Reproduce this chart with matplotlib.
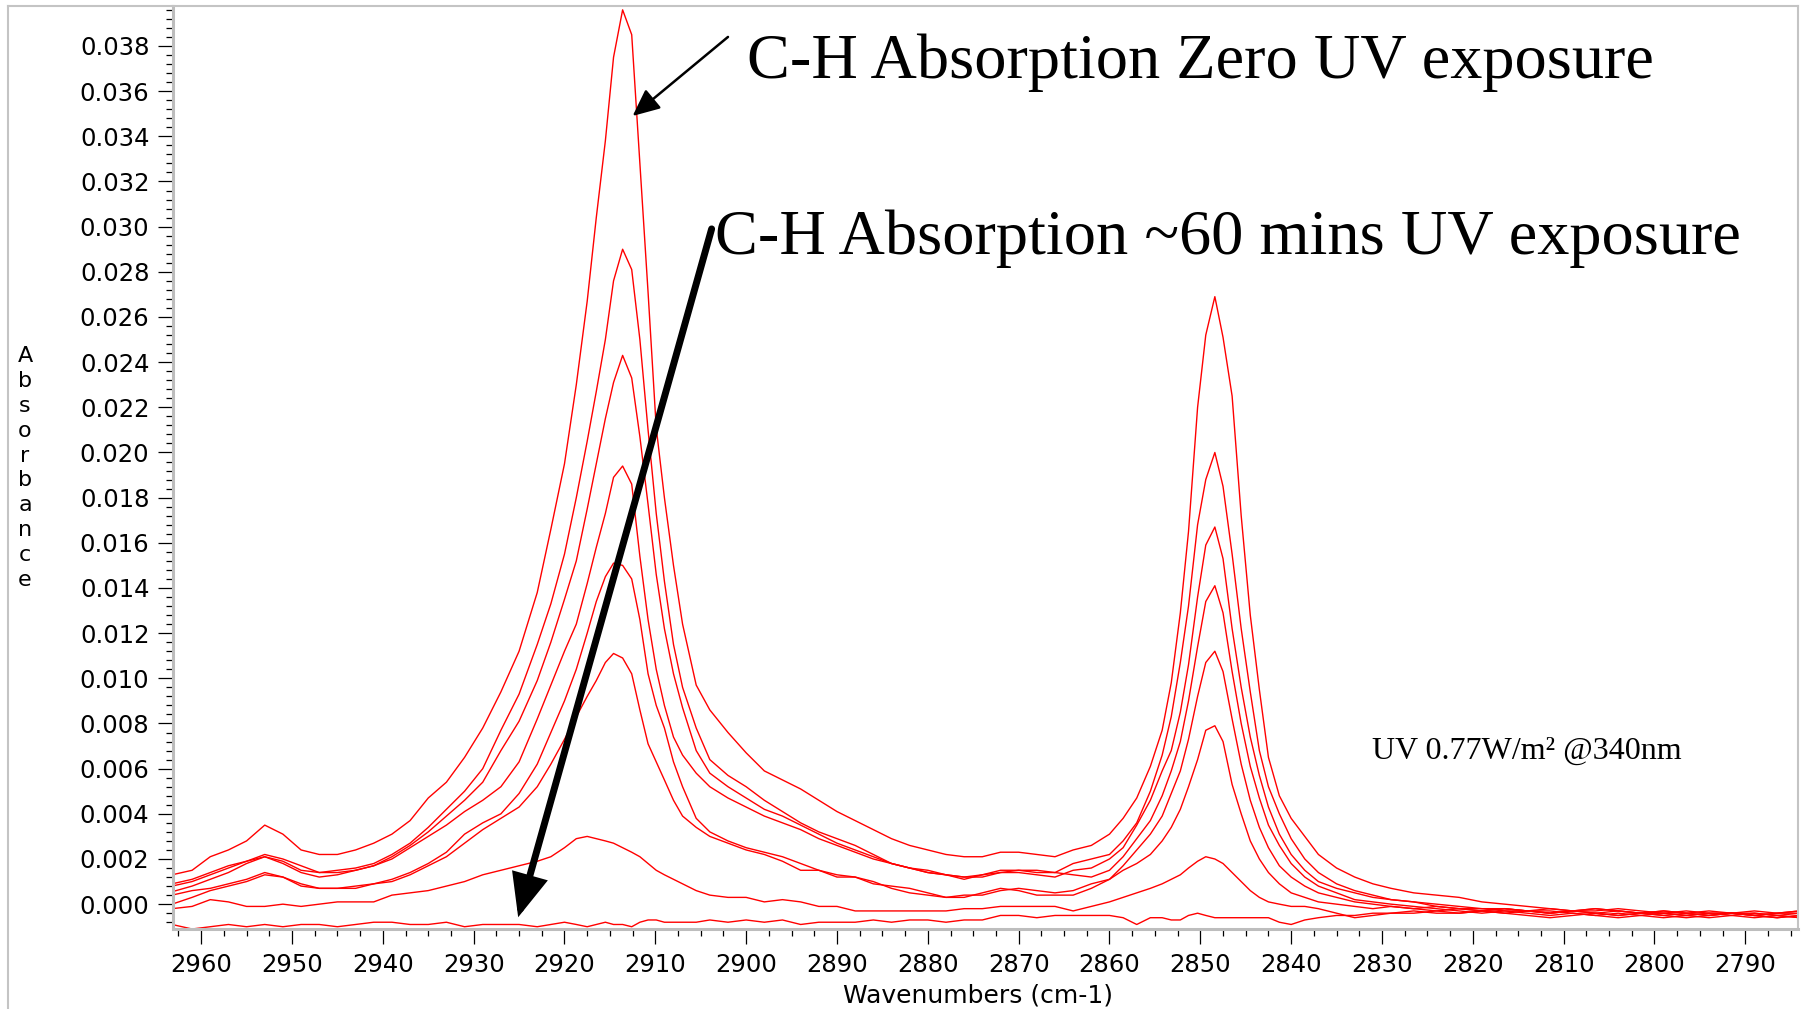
import matplotlib
matplotlib.use("Agg")
import matplotlib.pyplot as plt
from matplotlib.ticker import MultipleLocator, FormatStrFormatter
from matplotlib.lines import Line2D

# ---------------- data ----------------
wavenumber = [
    2963.2, 2961, 2959, 2957, 2955, 2953, 2951, 2949, 2947, 2945,
    2943, 2941, 2939, 2937, 2935, 2933, 2931, 2929, 2927, 2925,
    2923, 2921.5, 2920, 2918.7, 2917.5, 2916.5, 2915.5, 2914.6, 2913.6, 2912.6,
    2911.7, 2910.8, 2909.9, 2909, 2908, 2907, 2905.5, 2904, 2902, 2900,
    2898, 2896, 2894, 2892, 2890, 2888, 2886, 2884, 2882, 2880,
    2878, 2876, 2874, 2872, 2870, 2868, 2866, 2864, 2862, 2860,
    2858.5, 2857, 2855.5, 2854.2, 2853.2, 2852.2, 2851.3, 2850.3, 2849.4, 2848.4,
    2847.5, 2846.5, 2845.5, 2844.5, 2843.5, 2842.5, 2841.3, 2840, 2838.5, 2837,
    2835, 2833, 2831, 2829, 2826.5, 2824, 2821.5, 2819, 2816.5, 2814,
    2811.5, 2809, 2806.5, 2804, 2801.5, 2799, 2796.5, 2794, 2791.5, 2789, 2786.5, 2784]

abs_uv_0 = [
    0.0013, 0.0015, 0.0021, 0.0024, 0.0028, 0.0035, 0.0031, 0.0024, 0.0022, 0.0022,
    0.0024, 0.0027, 0.0031, 0.0037, 0.0047, 0.0054, 0.0065, 0.0078, 0.0094, 0.0112,
    0.0138, 0.0166, 0.0195, 0.0230, 0.0267, 0.0304, 0.0338, 0.0375, 0.0396, 0.0385,
    0.0328, 0.0271, 0.0211, 0.0180, 0.0150, 0.0124, 0.0097, 0.0086, 0.0076, 0.0067,
    0.0059, 0.0055, 0.0051, 0.0046, 0.0041, 0.0037, 0.0033, 0.0029, 0.0026, 0.0024,
    0.0022, 0.0021, 0.0021, 0.0023, 0.0023, 0.0022, 0.0021, 0.0024, 0.0026, 0.0031,
    0.0038, 0.0047, 0.0061, 0.0077, 0.0098, 0.0129, 0.0165, 0.0220, 0.0252, 0.0269,
    0.0251, 0.0225, 0.0172, 0.0128, 0.0095, 0.0065, 0.0048, 0.0038, 0.0030, 0.0022,
    0.0016, 0.0012, 0.0009, 0.0007, 0.0005, 0.0004, 0.0003, 0.0001, 0.0000, -0.0001,
    -0.0002, -0.0003, -0.0003, -0.0002, -0.0003, -0.0004, -0.0003, -0.0004, -0.0004, -0.0005, -0.0004, -0.0003]

abs_uv_1 = [
    0.0009, 0.0011, 0.0014, 0.0017, 0.0019, 0.0022, 0.0020, 0.0017, 0.0014, 0.0015,
    0.0016, 0.0018, 0.0022, 0.0027, 0.0034, 0.0042, 0.0050, 0.0060, 0.0077, 0.0093,
    0.0115, 0.0133, 0.0155, 0.0180, 0.0205, 0.0227, 0.0250, 0.0276, 0.0290, 0.0281,
    0.0250, 0.0210, 0.0173, 0.0143, 0.0115, 0.0096, 0.0078, 0.0064, 0.0057, 0.0052,
    0.0046, 0.0041, 0.0036, 0.0032, 0.0029, 0.0026, 0.0022, 0.0018, 0.0016, 0.0014,
    0.0013, 0.0012, 0.0013, 0.0015, 0.0015, 0.0015, 0.0014, 0.0018, 0.0020, 0.0022,
    0.0028, 0.0036, 0.0050, 0.0066, 0.0083, 0.0107, 0.0132, 0.0168, 0.0188, 0.0200,
    0.0185, 0.0155, 0.0122, 0.0094, 0.0068, 0.0052, 0.0040, 0.0029, 0.0020, 0.0014,
    0.0009, 0.0006, 0.0004, 0.0002, 0.0001, 0.0000, -0.0001, -0.0002, -0.0002, -0.0003,
    -0.0002, -0.0003, -0.0004, -0.0003, -0.0004, -0.0003, -0.0004, -0.0005, -0.0004, -0.0004, -0.0005, -0.0004]

abs_uv_2 = [
    0.0008, 0.0010, 0.0013, 0.0016, 0.0019, 0.0021, 0.0019, 0.0015, 0.0014, 0.0014,
    0.0015, 0.0017, 0.0021, 0.0026, 0.0032, 0.0039, 0.0046, 0.0054, 0.0068, 0.0081,
    0.0099, 0.0116, 0.0135, 0.0152, 0.0175, 0.0195, 0.0215, 0.0231, 0.0243, 0.0233,
    0.0207, 0.0177, 0.0146, 0.0122, 0.0102, 0.0087, 0.0068, 0.0058, 0.0052, 0.0047,
    0.0042, 0.0039, 0.0035, 0.0031, 0.0027, 0.0024, 0.0021, 0.0018, 0.0016, 0.0014,
    0.0013, 0.0011, 0.0013, 0.0014, 0.0014, 0.0013, 0.0012, 0.0015, 0.0016, 0.0020,
    0.0025, 0.0035, 0.0046, 0.0059, 0.0068, 0.0085, 0.0106, 0.0136, 0.0159, 0.0167,
    0.0153, 0.0122, 0.0096, 0.0074, 0.0057, 0.0043, 0.0031, 0.0022, 0.0015, 0.0010,
    0.0007, 0.0005, 0.0003, 0.0002, 0.0001, -0.0001, -0.0002, -0.0002, -0.0003, -0.0003,
    -0.0004, -0.0003, -0.0002, -0.0003, -0.0004, -0.0005, -0.0004, -0.0003, -0.0004, -0.0005, -0.0004, -0.0004]

abs_uv_3 = [
    0.00055, 0.0008, 0.0011, 0.0014, 0.0018, 0.0021, 0.0018, 0.0014, 0.0012, 0.0013,
    0.0015, 0.0017, 0.0020, 0.0025, 0.0030, 0.0035, 0.0041, 0.0046, 0.0052, 0.0063,
    0.0082, 0.0097, 0.0112, 0.0124, 0.0142, 0.0158, 0.0173, 0.0189, 0.0194, 0.0186,
    0.0154, 0.0126, 0.0104, 0.0088, 0.0074, 0.0066, 0.0058, 0.0052, 0.0047, 0.0043,
    0.0039, 0.0036, 0.0033, 0.0029, 0.0026, 0.0023, 0.0020, 0.0018, 0.0016, 0.0015,
    0.0013, 0.0012, 0.0012, 0.0014, 0.0015, 0.0014, 0.0014, 0.0013, 0.0012, 0.0015,
    0.0021, 0.0029, 0.0037, 0.0048, 0.0059, 0.0072, 0.0090, 0.0114, 0.0134, 0.0141,
    0.0129, 0.0103, 0.0080, 0.0061, 0.0047, 0.0035, 0.0026, 0.0018, 0.0012, 0.0008,
    0.0005, 0.0002, 0.0001, 0.0000, -0.0001, -0.0002, -0.0003, -0.0004, -0.0003, -0.0004,
    -0.0005, -0.0004, -0.0005, -0.0006, -0.0005, -0.0004, -0.0005, -0.0006, -0.0005, -0.0004, -0.0005, -0.0006]

abs_uv_4 = [
    0.0004, 0.0006, 0.0007, 0.0009, 0.0011, 0.0014, 0.0012, 0.0008, 0.0007, 0.0007,
    0.0008, 0.0009, 0.0011, 0.0014, 0.0018, 0.0023, 0.0031, 0.0036, 0.0040, 0.0049,
    0.0062, 0.0076, 0.0090, 0.0104, 0.0120, 0.0134, 0.0145, 0.0151, 0.0150, 0.0144,
    0.0126, 0.0102, 0.0088, 0.0078, 0.0063, 0.0052, 0.0038, 0.0032, 0.0028, 0.0025,
    0.0023, 0.0021, 0.0018, 0.0015, 0.0013, 0.0012, 0.0010, 0.0007, 0.0005, 0.0004,
    0.0003, 0.0003, 0.0005, 0.0007, 0.0006, 0.0004, 0.0004, 0.0004, 0.0007, 0.0011,
    0.0017, 0.0024, 0.0031, 0.0039, 0.0049, 0.0059, 0.0073, 0.0092, 0.0107, 0.0112,
    0.0103, 0.0082, 0.0062, 0.0046, 0.0034, 0.0025, 0.0017, 0.0012, 0.0008, 0.0005,
    0.0003, 0.0001, 0.0000, -0.0001, -0.0002, -0.0001, -0.0002, -0.0003, -0.0002, -0.0003,
    -0.0004, -0.0003, -0.0004, -0.0005, -0.0004, -0.0005, -0.0006, -0.0005, -0.0004, -0.0005, -0.0006, -0.0005]

abs_uv_5 = [
    0.0000, 0.0003, 0.0006, 0.0008, 0.0010, 0.0013, 0.0012, 0.0009, 0.0007, 0.0007,
    0.0007, 0.0009, 0.0010, 0.0013, 0.0017, 0.0021, 0.0027, 0.0033, 0.0038, 0.0043,
    0.0052, 0.0062, 0.0073, 0.0083, 0.0092, 0.0099, 0.0107, 0.0111, 0.0109, 0.0102,
    0.0086, 0.0071, 0.0063, 0.0055, 0.0046, 0.0039, 0.0034, 0.0030, 0.0027, 0.0024,
    0.0022, 0.0019, 0.0015, 0.0015, 0.0012, 0.0012, 0.0009, 0.0008, 0.0007, 0.0005,
    0.0003, 0.0004, 0.0004, 0.0006, 0.0007, 0.0006, 0.0005, 0.0006, 0.0009, 0.0011,
    0.0015, 0.0018, 0.0022, 0.0028, 0.0034, 0.0042, 0.0052, 0.0064, 0.0077, 0.0079,
    0.0072, 0.0053, 0.0040, 0.0028, 0.0020, 0.0014, 0.0009, 0.0005, 0.0003, 0.0001,
    0.0000, -0.0001, -0.0002, -0.0001, -0.0002, -0.0003, -0.0002, -0.0003, -0.0004, -0.0003,
    -0.0003, -0.0004, -0.0005, -0.0004, -0.0005, -0.0006, -0.0005, -0.0004, -0.0005, -0.0006, -0.0005, -0.0006]

abs_uv_6 = [
    -0.0002, -0.0001, 0.0002, 0.0001, -0.0001, -0.0001, 0.0000, -0.0001, 0.0000, 0.0001,
    0.0001, 0.0001, 0.0004, 0.0005, 0.0006, 0.0008, 0.0010, 0.0013, 0.0015, 0.0017,
    0.0019, 0.0021, 0.0025, 0.0029, 0.0030, 0.0029, 0.0028, 0.0027, 0.0025, 0.0023,
    0.0021, 0.0018, 0.0015, 0.0013, 0.0011, 0.0009, 0.0006, 0.0004, 0.0003, 0.0003,
    0.0001, 0.0002, 0.0001, -0.0001, -0.0001, -0.0003, -0.0003, -0.0003, -0.0003, -0.0003,
    -0.0003, -0.0002, -0.0002, -0.0001, -0.0001, -0.0001, -0.0001, -0.0003, -0.0001, 0.0001,
    0.0003, 0.0005, 0.0007, 0.0009, 0.0011, 0.0013, 0.0016, 0.0019, 0.0021, 0.0020,
    0.0018, 0.0014, 0.0010, 0.0006, 0.0003, 0.0001, 0.0000, -0.0001, -0.0001, -0.0002,
    -0.0004, -0.0006, -0.0005, -0.0004, -0.0003, -0.0004, -0.0004, -0.0003, -0.0002, -0.0003,
    -0.0004, -0.0003, -0.0002, -0.0003, -0.0004, -0.0003, -0.0004, -0.0005, -0.0004, -0.0005, -0.0006, -0.0005]

abs_uv_60min = [
    -0.0009, -0.0011, -0.0010, -0.0009, -0.0010, -0.0009, -0.0010, -0.0009, -0.0009, -0.0010,
    -0.0009, -0.0008, -0.0008, -0.0009, -0.0009, -0.0008, -0.0010, -0.0009, -0.0009, -0.0009,
    -0.0010, -0.0009, -0.0008, -0.0009, -0.0010, -0.0009, -0.0008, -0.0009, -0.0009, -0.0010,
    -0.0008, -0.0007, -0.0007, -0.0008, -0.0008, -0.0008, -0.0008, -0.0007, -0.0008, -0.0007,
    -0.0008, -0.0007, -0.0009, -0.0008, -0.0008, -0.0008, -0.0007, -0.0008, -0.0007, -0.0007,
    -0.0008, -0.0007, -0.0007, -0.0005, -0.0005, -0.0006, -0.0005, -0.0005, -0.0005, -0.0005,
    -0.0006, -0.0009, -0.0006, -0.0006, -0.0007, -0.0007, -0.0005, -0.0004, -0.0005, -0.0006,
    -0.0006, -0.0006, -0.0006, -0.0006, -0.0006, -0.0006, -0.0008, -0.0009, -0.0007, -0.0006,
    -0.0005, -0.0005, -0.0004, -0.0004, -0.0004, -0.0003, -0.0004, -0.0003, -0.0004, -0.0005,
    -0.0006, -0.0005, -0.0004, -0.0005, -0.0004, -0.0004, -0.0005, -0.0004, -0.0004, -0.0003, -0.0004, -0.0003]

spectra = [abs_uv_0, abs_uv_1, abs_uv_2, abs_uv_3, abs_uv_4, abs_uv_5, abs_uv_6, abs_uv_60min]

# ---------------- figure ----------------
W, H = 1803, 1009
fig = plt.figure(figsize=(W / 100, H / 100), dpi=100)
ax_l, ax_r, ax_t, ax_b = 173, 1798, 6, 929
ax = fig.add_axes([ax_l / W, 1 - ax_b / H, (ax_r - ax_l) / W, (ax_b - ax_t) / H])

for s in spectra:
    ax.plot(wavenumber, s, color="#ff0000", lw=1.0, solid_joinstyle="round")

ax.set_xlim(2963.1, 2784.2)
ax.set_ylim(-0.0011, 0.03977)

ax.xaxis.set_major_locator(MultipleLocator(10))
ax.xaxis.set_minor_locator(MultipleLocator(2.5))
ax.yaxis.set_major_locator(MultipleLocator(0.002))
ax.yaxis.set_minor_locator(MultipleLocator(0.0004))
ax.yaxis.set_major_formatter(FormatStrFormatter("%.3f"))
ax.xaxis.set_major_formatter(FormatStrFormatter("%d"))

tick_font = "DejaVu Sans"
ax.tick_params(which="major", direction="out", length=11, width=0.9, color="black",
               labelsize=17.5, pad=6)
ax.tick_params(which="minor", direction="out", length=5, width=0.9, color="black")
for lab in ax.get_xticklabels() + ax.get_yticklabels():
    lab.set_fontfamily(tick_font)

for side in ("left", "bottom"):
    ax.spines[side].set_color("#bdbdbd")
    ax.spines[side].set_linewidth(2.2)
for side in ("top", "right"):
    ax.spines[side].set_color("#c4c4c4")
    ax.spines[side].set_linewidth(1.5)

# outer frame lines of the slide image
fig.add_artist(Line2D([8 / W, 8 / W], [0, 1 - 6 / H], transform=fig.transFigure,
                      color="#c4c4c4", lw=1.5))
fig.add_artist(Line2D([8 / W, ax_l / W], [1 - 6 / H, 1 - 6 / H], transform=fig.transFigure,
                      color="#c4c4c4", lw=1.5))

# axis labels
fig.text(978 / W, 1 - 996 / H, "Wavenumbers (cm-1)", ha="center", va="center",
         fontsize=18, family=tick_font)
fig.text(25 / W, 1 - 468 / H, "\n".join("Absorbance"), ha="center", va="center",
         fontsize=16, family=tick_font, linespacing=1.30)

# annotations
serif = "Liberation Serif"
ax.text(2899.9, 0.0366, "C-H Absorption Zero UV exposure", ha="left", va="baseline",
        fontsize=46.3, family=serif)
ax.text(2903.4, 0.0288, "C-H Absorption ~60 mins UV exposure", ha="left", va="baseline",
        fontsize=46.3, family=serif)
ax.text(2831.1, 0.00642, "UV 0.77W/m\u00b2 @340nm", ha="left", va="baseline",
        fontsize=23.0, family=serif)

ax.annotate("", xy=(2912.5, 0.0349), xytext=(2902.0, 0.0384),
            arrowprops=dict(arrowstyle="-|>,head_length=0.55,head_width=0.25",
                            mutation_scale=30, lw=1.8, color="black",
                            shrinkA=0, shrinkB=0))
ax.annotate("", xy=(2925.1, -0.00058), xytext=(2903.8, 0.0299),
            arrowprops=dict(arrowstyle="-|>,head_length=0.75,head_width=0.32",
                            mutation_scale=30, lw=5, color="black",
                            shrinkA=0, shrinkB=0, joinstyle="miter"))

fig.savefig("out.png", dpi=100)
